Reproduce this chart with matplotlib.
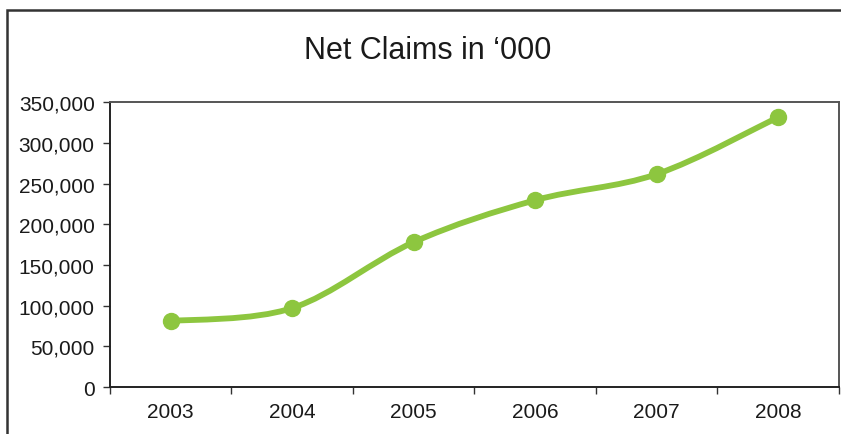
import numpy as np
import matplotlib.pyplot as plt
from matplotlib.path import Path
from matplotlib.patches import PathPatch, Rectangle
from matplotlib.ticker import FuncFormatter, FixedLocator

plt.rcParams['font.family'] = ['Liberation Sans', 'DejaVu Sans']

# ---------------------------------------------------------------------------
# Data
# ---------------------------------------------------------------------------
years = ['2003', '2004', '2005', '2006', '2007', '2008']
net_claims = [81000, 97000, 178000, 229500, 261500, 331500]

TITLE = 'Net Claims in \u2018000'
LINE_COL = '#8DC63F'
TEXT_COL = '#1a1a1a'


def smooth_path(xs, ys):
    # Excel-style smoothed line: Catmull-Rom segments as cubic Beziers
    xs = np.asarray(xs, float); ys = np.asarray(ys, float)
    n = len(xs)
    verts = [(xs[0], ys[0])]
    codes = [Path.MOVETO]
    for i in range(n - 1):
        i0 = max(i - 1, 0); i3 = min(i + 2, n - 1)
        c1 = (xs[i] + (xs[i + 1] - xs[i0]) / 6, ys[i] + (ys[i + 1] - ys[i0]) / 6)
        c2 = (xs[i + 1] - (xs[i3] - xs[i]) / 6, ys[i + 1] - (ys[i3] - ys[i]) / 6)
        verts += [c1, c2, (xs[i + 1], ys[i + 1])]
        codes += [Path.CURVE4] * 3
    return Path(verts, codes)


fig = plt.figure(figsize=(8.41, 4.35), dpi=100)
ax = fig.add_axes([0.1308, 0.108, 0.8668, 0.655])

x = np.arange(len(years))
ax.add_patch(PathPatch(smooth_path(x, net_claims), fill=False,
                       edgecolor=LINE_COL, lw=4.2, capstyle='round',
                       joinstyle='round', zorder=3))
ax.plot(x, net_claims, ls='none', marker='o', ms=11.5,
        color=LINE_COL, mec=LINE_COL, zorder=4)

ax.set_xlim(-0.5, len(years) - 0.5)
ax.set_ylim(0, 350000)
ax.set_yticks(np.arange(0, 350001, 50000))
ax.yaxis.set_major_formatter(FuncFormatter(lambda v, p: f'{int(v):,}'))

# category labels centred, tick marks on the boundaries
ax.set_xticks(x)
ax.set_xticklabels(years)
ax.xaxis.set_minor_locator(FixedLocator(np.arange(-0.5, len(years), 1.0)))
ax.tick_params(axis='x', which='major', length=0, pad=11, labelsize=15,
               labelcolor=TEXT_COL)
ax.tick_params(axis='x', which='minor', length=5, width=1.0, direction='out',
               color='#333333')
ax.tick_params(axis='y', length=5, width=1.0, direction='out', pad=6,
               labelsize=15, labelcolor=TEXT_COL, color='#333333')

for sp in ax.spines.values():
    sp.set_edgecolor('#222222'); sp.set_linewidth(1.4)
ax.spines['top'].set_edgecolor('#555555')
ax.spines['right'].set_edgecolor('#555555')

fig.text(0.509, 0.882, TITLE, ha='center', va='center', fontsize=22,
         color=TEXT_COL)

# outer chart frame (runs off the right and bottom edges)
fig.patches.append(Rectangle((7 / 841, -0.1), 1.2, 1.1 - 11 / 435,
                             transform=fig.transFigure, fill=False,
                             edgecolor='#333333', lw=1.8, clip_on=False))

fig.savefig('out.png', dpi=100)
